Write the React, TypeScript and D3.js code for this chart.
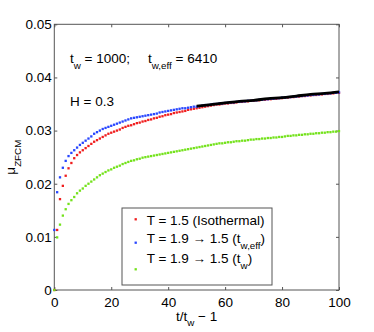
import React, { useEffect, useRef } from "react";
import * as d3 from "d3";

const xTicks = [0, 20, 40, 60, 80, 100];
const yTicks = [0, 0.01, 0.02, 0.03, 0.04, 0.05];

// mu_ZFCM at t/tw - 1 = 0, 1, 2, ... 100
const redY = [
  0, 0.0113, 0.0171, 0.0196, 0.0215, 0.0229, 0.0239, 0.0248, 0.0254, 0.0259, 0.0263,
  0.0267, 0.0271, 0.0275, 0.0279, 0.0282, 0.0285, 0.0288, 0.0291, 0.0294, 0.0296,
  0.0298, 0.03, 0.0302, 0.0305, 0.0307, 0.0309, 0.031, 0.0312, 0.0314, 0.0315,
  0.0317, 0.0318, 0.032, 0.0321, 0.0323, 0.0324, 0.0326, 0.0327, 0.0329, 0.033,
  0.0331, 0.0333, 0.0334, 0.0335, 0.0336, 0.0337, 0.0339, 0.034, 0.0341, 0.0342,
  0.0343, 0.0344, 0.0345, 0.0346, 0.0347, 0.0348, 0.0349, 0.0349, 0.035, 0.0351,
  0.0351, 0.0352, 0.0352, 0.0353, 0.0354, 0.0354, 0.0355, 0.0355, 0.0356, 0.0356,
  0.0357, 0.0357, 0.0358, 0.0358, 0.0359, 0.0359, 0.036, 0.036, 0.0361, 0.0361,
  0.0362, 0.0362, 0.0363, 0.0363, 0.0364, 0.0364, 0.0365, 0.0365, 0.0366, 0.0366,
  0.0367, 0.0367, 0.0368, 0.0368, 0.0369, 0.0369, 0.037, 0.037, 0.0371, 0.0371,
];

const blueY = [
  0.0113, 0.0184, 0.0212, 0.023, 0.0243, 0.0252, 0.0258, 0.0263, 0.0268, 0.0273, 0.0277,
  0.0281, 0.0285, 0.0289, 0.0294, 0.0297, 0.03, 0.0303, 0.0305, 0.0307, 0.0309,
  0.0311, 0.0313, 0.0315, 0.0317, 0.0319, 0.0321, 0.0323, 0.0324, 0.0325, 0.0326,
  0.0327, 0.0328, 0.0329, 0.033, 0.0331, 0.0332, 0.0334, 0.0335, 0.0336, 0.0337,
  0.0338, 0.0339, 0.034, 0.0341, 0.0342, 0.0342, 0.0343, 0.0344, 0.0345, 0.0345,
  0.0346, 0.0347, 0.0348, 0.0348, 0.0349, 0.035, 0.035, 0.0351, 0.0351, 0.0352,
  0.0352, 0.0353, 0.0353, 0.0354, 0.0354, 0.0355, 0.0355, 0.0356, 0.0356, 0.0357,
  0.0357, 0.0358, 0.0358, 0.0359, 0.0359, 0.036, 0.036, 0.0361, 0.0361, 0.0362,
  0.0362, 0.0363, 0.0363, 0.0364, 0.0364, 0.0365, 0.0365, 0.0366, 0.0366, 0.0367,
  0.0367, 0.0368, 0.0368, 0.0369, 0.0369, 0.037, 0.037, 0.0371, 0.0371, 0.0372,
];

const greenY = [
  0, 0.0099, 0.0123, 0.014, 0.0152, 0.0162, 0.0169, 0.0175, 0.0182, 0.0187, 0.0191,
  0.0196, 0.02, 0.0204, 0.0208, 0.0212, 0.0216, 0.0219, 0.0222, 0.0225, 0.0227,
  0.023, 0.0232, 0.0234, 0.0237, 0.0239, 0.0241, 0.0243, 0.0244, 0.0246, 0.0247,
  0.0249, 0.025, 0.0251, 0.0252, 0.0253, 0.0254, 0.0255, 0.0256, 0.0257, 0.0258,
  0.0259, 0.026, 0.0261, 0.0262, 0.0263, 0.0264, 0.0265, 0.0266, 0.0267, 0.0268,
  0.0269, 0.027, 0.0271, 0.0272, 0.0273, 0.0274, 0.0275, 0.0276, 0.0276, 0.0277,
  0.0278, 0.0278, 0.0279, 0.028, 0.028, 0.0281, 0.0281, 0.0282, 0.0283, 0.0283,
  0.0284, 0.0284, 0.0285, 0.0285, 0.0286, 0.0286, 0.0287, 0.0287, 0.0288, 0.0288,
  0.0289, 0.029, 0.029, 0.0291, 0.0291, 0.0292, 0.0292, 0.0293, 0.0293, 0.0294,
  0.0294, 0.0295, 0.0295, 0.0296, 0.0296, 0.0297, 0.0297, 0.0298, 0.0298, 0.0299,
];

// black fit line
const fitX = [50, 55, 60, 65, 70, 75, 80, 85, 90, 95, 100];
const fitY = [0.0346, 0.0349, 0.0352, 0.0355, 0.0357, 0.036, 0.0362, 0.0365, 0.0368, 0.037, 0.0373];

const FONT = "'Liberation Sans', Arial, Helvetica, sans-serif";

export default function App() {
  const ref = useRef<SVGSVGElement>(null);

  useEffect(() => {
    document.body.style.margin = "0";
    draw();
  }, []);

  const draw = () => {
    const svg = d3.select(ref.current);
    svg.selectAll("*").remove();

    const left = 54.3;
    const right = 339;
    const top = 24.3;
    const bottom = 290;

    const x = d3.scaleLinear().domain([0, 100]).range([left, right]);
    const y = d3.scaleLinear().domain([0, 0.05]).range([bottom, top]);

    const axisColor = "#555";

    svg
      .append("rect")
      .attr("x", left)
      .attr("y", top)
      .attr("width", right - left)
      .attr("height", bottom - top)
      .attr("fill", "white")
      .attr("stroke", axisColor)
      .attr("stroke-width", 1);

    const styleAxis = (g: any) => {
      g.select(".domain").remove();
      g.selectAll("line").attr("stroke", axisColor);
      g.selectAll("text")
        .attr("fill", "#000")
        .style("font-family", FONT)
        .style("font-size", "13.5px");
    };

    svg
      .append("g")
      .attr("transform", `translate(0, ${bottom})`)
      .call(
        d3.axisBottom(x).tickValues(xTicks).tickSize(-3).tickPadding(7).tickFormat(d3.format("d"))
      )
      .call(styleAxis);

    svg
      .append("g")
      .attr("transform", `translate(0, ${top})`)
      .call(d3.axisTop(x).tickValues(xTicks).tickSize(-3).tickFormat(() => ""))
      .call(styleAxis);

    svg
      .append("g")
      .attr("transform", `translate(${left}, 0)`)
      .call(
        d3
          .axisLeft(y)
          .tickValues(yTicks)
          .tickSize(-3)
          .tickPadding(2.5)
          .tickFormat((d: any) => (d === 0 ? "0" : d3.format(".2f")(d)))
      )
      .call(styleAxis);

    svg
      .append("g")
      .attr("transform", `translate(${right}, 0)`)
      .call(d3.axisRight(y).tickValues(yTicks).tickSize(-3).tickFormat(() => ""))
      .call(styleAxis);

    const series = [
      { values: redY, color: "#f01e1e" },
      { values: blueY, color: "#2846ff" },
      { values: greenY, color: "#74e21c" },
    ];

    const m = 2.3;
    series.forEach((s) => {
      svg
        .append("g")
        .selectAll("rect")
        .data(s.values)
        .enter()
        .append("rect")
        .attr("x", (d, i) => x(i) - m / 2)
        .attr("y", (d) => y(d) - m / 2)
        .attr("width", m)
        .attr("height", m)
        .attr("fill", s.color);
    });

    const line = d3
      .line<number>()
      .x((d, i) => x(fitX[i]))
      .y((d) => y(d))
      .curve(d3.curveMonotoneX);

    svg
      .append("path")
      .attr("d", line(fitY))
      .attr("fill", "none")
      .attr("stroke", "#000")
      .attr("stroke-width", 2.8);

    // text helpers
    const addText = (
      xPos: number,
      yPos: number,
      parts: { t: string; sub?: boolean }[],
      anchor = "start"
    ) => {
      const t = svg
        .append("text")
        .attr("x", xPos)
        .attr("y", yPos)
        .attr("text-anchor", anchor)
        .style("font-family", FONT)
        .style("font-size", "13.5px")
        .attr("fill", "#000");
      let shifted = false;
      parts.forEach((p) => {
        const ts = t.append("tspan").text(p.t);
        if (p.sub && !shifted) {
          ts.attr("dy", 5.5).style("font-size", "9.8px");
          shifted = true;
        } else if (p.sub) {
          ts.style("font-size", "9.8px");
        } else if (shifted) {
          ts.attr("dy", -5.5);
          shifted = false;
        }
      });
      return t;
    };

    addText(70, 63, [{ t: "t" }, { t: "w", sub: true }, { t: " = 1000;" }]);
    addText(148, 63, [{ t: "t" }, { t: "w,eff", sub: true }, { t: " = 6410" }]);
    addText(70, 106, [{ t: "H = 0.3" }]);

    // x label
    addText((left + right) / 2, 320.5, [{ t: "t/t" }, { t: "w", sub: true }, { t: " \u2212 1" }], "middle");

    // y label
    addText(0, 0, [{ t: "\u03bc" }, { t: "ZFCM", sub: true }], "middle")
      .attr("transform", `translate(15, ${(top + bottom) / 2}) rotate(-90)`);

    // legend
    svg
      .append("rect")
      .attr("x", 122)
      .attr("y", 208)
      .attr("width", 150)
      .attr("height", 77)
      .attr("fill", "white")
      .attr("stroke", axisColor)
      .attr("stroke-width", 1);

    const legend = [
      { color: series[0].color, my: 219.3, ty: 224.5, parts: [{ t: "T = 1.5 (Isothermal)" }] },
      {
        color: series[1].color,
        my: 242.7,
        ty: 243.3,
        parts: [{ t: "T = 1.9 \u2192 1.5 (t" }, { t: "w,eff", sub: true }, { t: ")" }],
      },
      {
        color: series[2].color,
        my: 269.3,
        ty: 263.3,
        parts: [{ t: "T = 1.9 \u2192 1.5 (t" }, { t: "w", sub: true }, { t: ")" }],
      },
    ];

    legend.forEach((l) => {
      svg
        .append("rect")
        .attr("x", 135.7 - m / 2)
        .attr("y", l.my - m / 2)
        .attr("width", m)
        .attr("height", m)
        .attr("fill", l.color);
      addText(146.7, l.ty, l.parts);
    });
  };

  return <svg ref={ref} width={374} height={332} style={{ display: "block", background: "white" }} />;
}
